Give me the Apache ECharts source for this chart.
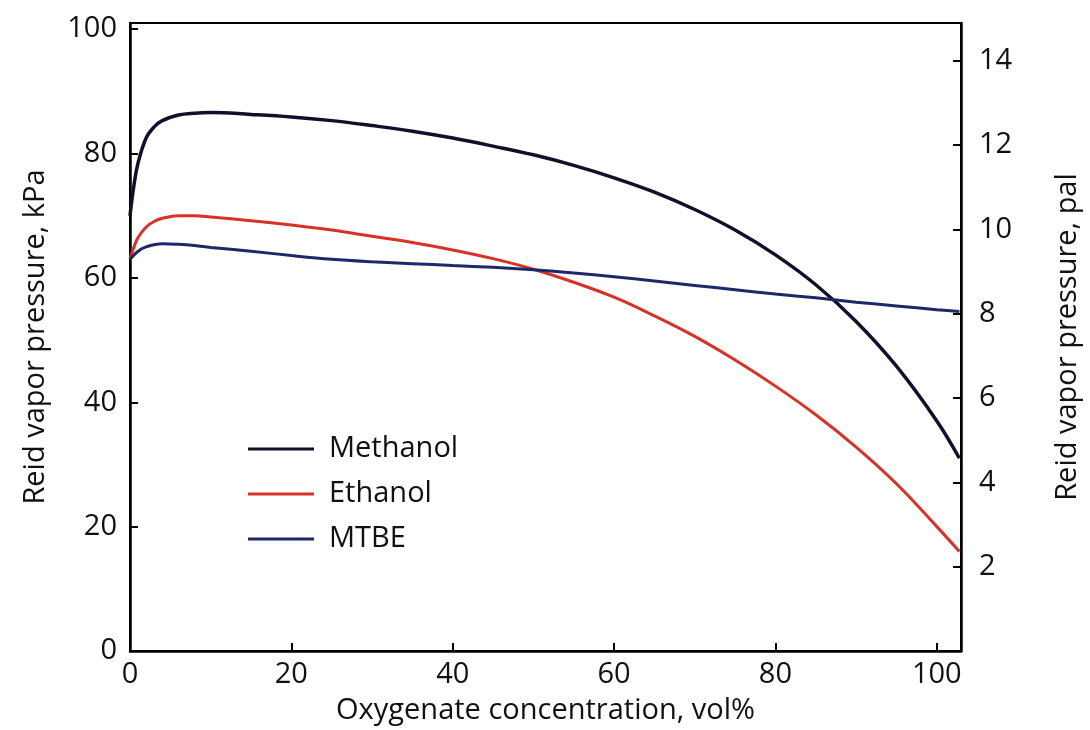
<!DOCTYPE html>
<html>
<head>
<meta charset="utf-8">
<script src="https://cdn.jsdelivr.net/npm/echarts@6/dist/echarts.min.js"></script>
<style>html,body{margin:0;padding:0;background:#fff;}#c{width:1090px;height:730px;}</style>
</head>
<body>
<div id="c"></div>
<script>
var xMethanol = [0, 0.5, 1, 2, 3, 4, 6, 8, 10, 15, 20, 25, 30, 35, 40, 45, 50, 55, 60, 65, 70, 75, 80, 85, 90, 95, 100, 102.8];
var yMethanol = [70, 75, 78.5, 82.5, 84.3, 85.3, 86.2, 86.5, 86.6, 86.3, 85.9, 85.3, 84.5, 83.6, 82.5, 81.2, 79.8, 78.1, 76.1, 73.8, 71.0, 67.7, 63.7, 58.9, 53.0, 45.8, 37.0, 31.0];
var xEthanol = [0, 0.5, 1, 2, 3, 4, 6, 8, 10, 15, 20, 25, 30, 35, 40, 45, 50, 55, 60, 65, 70, 75, 80, 85, 90, 95, 100, 102.8];
var yEthanol = [63, 65, 66.5, 68.2, 69.1, 69.6, 70.0, 70.0, 69.8, 69.2, 68.5, 67.7, 66.7, 65.7, 64.5, 63.1, 61.4, 59.3, 56.9, 53.9, 50.6, 46.8, 42.6, 38.0, 32.8, 26.9, 20.0, 16.0];
var xMTBE = [0, 1, 2, 4, 6, 8, 10, 15, 20, 25, 30, 35, 40, 45, 50, 55, 60, 65, 70, 75, 80, 85, 90, 95, 100, 102.8];
var yMTBE = [63, 64.3, 65, 65.5, 65.4, 65.2, 64.9, 64.3, 63.6, 63.0, 62.6, 62.3, 62.0, 61.7, 61.3, 60.8, 60.2, 59.5, 58.8, 58.1, 57.4, 56.8, 56.1, 55.5, 54.9, 54.6];
var seriesNames = ['Methanol', 'Ethanol', 'MTBE'];
var xTitle = 'Oxygenate concentration, vol%';
var yLeftTitle = 'Reid vapor pressure, kPa';
var yRightTitle = 'Reid vapor pressure, pal';

function pairs(xs, ys) { return xs.map(function (x, i) { return [x, ys[i]]; }); }

var FONT = 'Open Sans';
var TXT = '#111';
var FS = 29;
var chart = echarts.init(document.getElementById('c'));
chart.setOption({
  animation: false,
  backgroundColor: '#fff',
  textStyle: { fontFamily: FONT },
  grid: { left: 130, right: 127, top: 23, bottom: 79, show: true, borderColor: '#000', borderWidth: 2, backgroundColor: 'transparent' },
  legend: {
    orient: 'vertical', left: 243, top: 429,
    itemWidth: 66, itemHeight: 3, itemGap: 15, icon: 'rect',
    textStyle: { fontFamily: FONT, fontSize: FS, color: TXT, lineHeight: 30, padding: [0, 0, 0, 10] },
    data: seriesNames
  },
  xAxis: {
    type: 'value', min: 0, max: 103, interval: 20,
    name: xTitle, nameLocation: 'middle', nameGap: 45,
    nameTextStyle: { fontFamily: FONT, fontSize: FS, color: TXT },
    axisLine: { lineStyle: { color: '#000', width: 2.5 } },
    axisTick: { inside: true, length: 8, lineStyle: { color: '#000', width: 2 } },
    axisLabel: { fontFamily: FONT, fontSize: FS, color: TXT, margin: 9, showMaxLabel: false },
    splitLine: { show: false }
  },
  yAxis: [{
    type: 'value', min: 0, max: 101, interval: 20, position: 'left',
    name: yLeftTitle, nameLocation: 'middle', nameGap: 80, nameRotate: 90,
    nameTextStyle: { fontFamily: FONT, fontSize: FS, color: TXT },
    axisLine: { show: true, lineStyle: { color: '#000', width: 2.5 } },
    axisTick: { show: true, inside: true, length: 8, lineStyle: { color: '#000', width: 2 } },
    axisLabel: { fontFamily: FONT, fontSize: FS, color: TXT, margin: 13, showMaxLabel: false },
    splitLine: { show: false }
  }, {
    type: 'value', min: 0, max: 14.9, interval: 2, position: 'right',
    name: yRightTitle, nameLocation: 'middle', nameGap: 92, nameRotate: 90,
    nameTextStyle: { fontFamily: FONT, fontSize: FS, color: TXT },
    axisLine: { show: true, lineStyle: { color: '#000', width: 2.5 } },
    axisTick: { show: true, inside: true, length: 8, lineStyle: { color: '#000', width: 2 } },
    axisLabel: { fontFamily: FONT, fontSize: FS, color: TXT, margin: 18, showMaxLabel: false, showMinLabel: false },
    splitLine: { show: false }
  }],
  series: [
    { name: seriesNames[0], type: 'line', yAxisIndex: 0, data: pairs(xMethanol, yMethanol), smooth: 0.4, symbol: 'none', color: '#10102a', lineStyle: { width: 3.5 } },
    { name: seriesNames[1], type: 'line', yAxisIndex: 0, data: pairs(xEthanol, yEthanol), smooth: 0.4, symbol: 'none', color: '#d83228', lineStyle: { width: 3 } },
    { name: seriesNames[2], type: 'line', yAxisIndex: 0, data: pairs(xMTBE, yMTBE), smooth: 0.4, symbol: 'none', color: '#1e2866', lineStyle: { width: 3 } }
  ]
});
</script>
</body>
</html>
